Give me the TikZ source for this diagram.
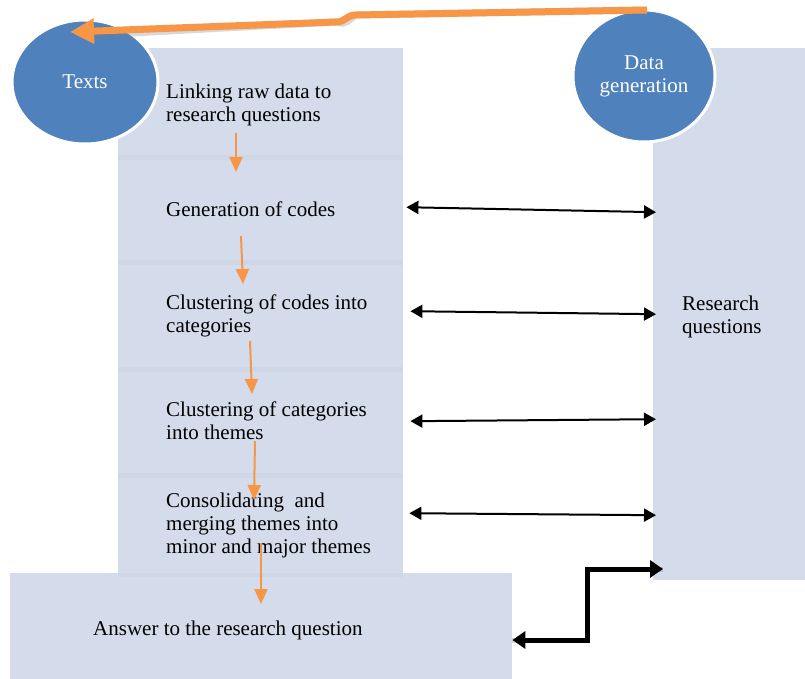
\documentclass[tikz,border=0pt]{standalone}
\usepackage{fontspec}
\setmainfont{Liberation Serif}
\usetikzlibrary{arrows.meta,shapes.geometric,calc}
\definecolor{panel}{HTML}{D4DBEA}
\definecolor{panelshade}{HTML}{CFD6E6}
\definecolor{accent}{HTML}{F79646}
\definecolor{bubble}{HTML}{4F81BD}
\tikzset{
  panelbox/.style={rectangle, fill=panel, draw=none, inner sep=0pt, anchor=north west},
  label/.style={font=\fontsize{21}{23}\selectfont, align=left, inner sep=0pt, anchor=west, text=black},
  bubblenode/.style={ellipse, fill=bubble, draw=white, line width=3pt, inner sep=0pt,
    text=white, font=\fontsize{21}{23}\selectfont, align=center},
  flow/.style={draw=accent, line width=2pt, -{Triangle[length=15pt,width=13pt]}},
  link/.style={draw=black, line width=2pt, {Triangle[length=12pt,width=13pt]}-{Triangle[length=12pt,width=13pt]}},
  feedback/.style={draw=accent, line width=7pt, -{Triangle[length=24pt,width=24pt]}},
  loopback/.style={draw=black, line width=5pt, {Triangle[length=13pt,width=17pt]}-{Triangle[length=13pt,width=17pt]}},
  shade/.style={draw=black!50, opacity=0.3},
}
\begin{document}
\begin{tikzpicture}[x=1pt,y=-1pt]
\useasboundingbox (0,0) rectangle (805,679);
\fill[white] (0,0) rectangle (805,679);

% stacked stages of the left column
\node[panelbox, minimum width=285pt, minimum height=107pt] (s1) at (118,48) {};
\node[panelbox, minimum width=285pt, minimum height=105pt] (s2) at (118,155) {};
\node[panelbox, minimum width=285pt, minimum height=107pt] (s3) at (118,260) {};
\node[panelbox, minimum width=285pt, minimum height=106pt] (s4) at (118,367) {};
\node[panelbox, minimum width=285pt, minimum height=102pt] (s5) at (118,473) {};
% thin shaded band at the top of each lower stage
\foreach \y in {155,260,367,473} \fill[panelshade] (118,\y) rectangle (403,\y+5);

% right column and bottom answer box
\node[panelbox, minimum width=152pt, minimum height=532pt] (rq) at (653,48) {};
\node[panelbox, minimum width=502pt, minimum height=106pt] (ans) at (10,573) {};
\fill[panelshade] (118,573) rectangle (403,577);

% stage texts
\node[label] (t1) at (166,105) {Linking raw data to\\research questions};
\node[label] (t2) at (166,209.5) {Generation of codes};
\node[label] (t3) at (166,315.5) {Clustering of codes into\\categories};
\node[label] (t4) at (166,420.5) {Clustering of categories\\into themes};
\node[label] (t5) at (166,525.5) {Consolidating\ \ and\\merging themes into\\minor and major themes};
\node[label] (t6) at (93,630) {Answer to the research question};
\node[label] (t7) at (682,316.5) {Research\\questions};

% circles
\node[bubblenode, minimum width=146pt, minimum height=124pt] (texts) at (85,82) {Texts};
\node[bubblenode, minimum width=142pt, minimum height=132pt] (gen) at (644,76) {Data\\generation};

% flow arrows between stages
\coordinate (f1a) at (236,133); \coordinate (f1b) at (236,172);
\coordinate (f2a) at (241,236); \coordinate (f2b) at (243,284);
\coordinate (f3a) at (250,341); \coordinate (f3b) at (252,394);
\coordinate (f4a) at (255,441); \coordinate (f4b) at (254,500);
\coordinate (f5a) at (261,543); \coordinate (f5b) at (261,604);
\draw[flow] (f1a) -- (f1b);
\draw[flow] (f2a) -- (f2b);
\draw[flow] (f3a) -- (f3b);
\draw[flow] (f4a) -- (f4b);
\draw[flow] (f5a) -- (f5b);

% two-way links to the research questions
\draw[link] ($(s2.east)+(3,-0.5)$) -- ($(rq.west)+(3,-102)$);
\draw[link] ($(s3.east)+(7,-2.5)$) -- ($(rq.west)+(3,0)$);
\draw[link] ($(s4.east)+(7,1)$) -- ($(rq.west)+(3,105)$);
\draw[link] ($(s5.east)+(6,-11)$) -- ($(rq.west)+(3,201)$);

% elbow link from the answer box
\coordinate (e1) at (587,640);
\coordinate (e2) at (587,569);
\coordinate (e3) at (663,569);
\draw[shade, line width=5pt, xshift=2pt, yshift=-3pt] (ans.east |- e1) -- (e1) -- (e2) -- (e3);
\draw[loopback] (ans.east |- e1) -- (e1) -- (e2) -- (e3);

% feedback from data generation to texts
\coordinate (k0) at (647,10);
\coordinate (k1) at (356,15);
\coordinate (k2) at (336,22);
\coordinate (k3) at (70,32);
\draw[shade, line width=7pt, xshift=2pt, yshift=-4pt] (k0) -- (k1) .. controls (346,15) and (346,22) .. (k2) -- (92,31);
\draw[feedback] (k0) -- (k1) .. controls (346,15) and (346,22) .. (k2) -- (k3);
\end{tikzpicture}
\end{document}
